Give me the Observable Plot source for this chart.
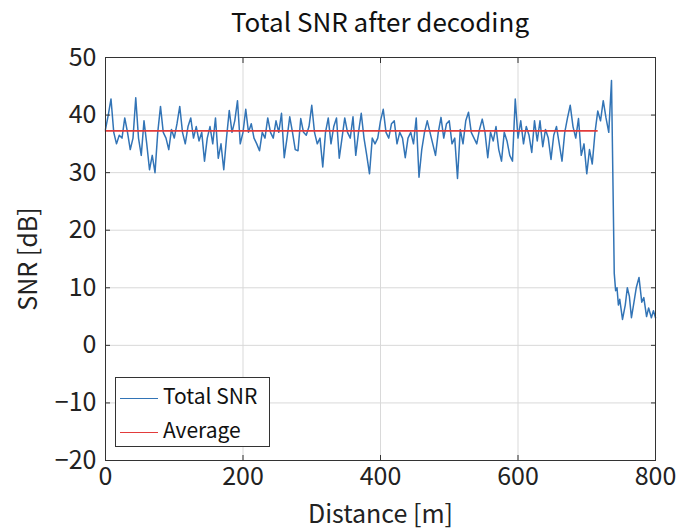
<!DOCTYPE html>
<html><head><meta charset="utf-8">
<script src="https://cdn.jsdelivr.net/npm/d3@7"></script>
<script src="https://cdn.jsdelivr.net/npm/@observablehq/plot@0.6"></script>
<style>
body{margin:0;background:#fff;font-family:"Noto Sans CJK JP","Noto Sans",sans-serif;}
#wrap{position:relative;width:679px;height:532px;overflow:hidden;}
#title{position:absolute;left:105px;width:550px;top:4px;text-align:center;font-size:26px;color:#111;line-height:34px;}
#chart{position:absolute;left:0;top:40px;}
#legend{position:absolute;left:115px;top:377px;width:155px;height:70px;border:1px solid #333;background:#fff;font-size:21px;color:#111;box-sizing:border-box;}
.row{position:absolute;left:4px;height:28px;line-height:28px;white-space:nowrap;}
.sw{display:inline-block;width:38px;height:0;vertical-align:middle;margin-right:5px;border-top:1.5px solid;}
</style></head>
<body><div id="wrap"><div id="title"></div><div id="chart"></div><div id="legend"></div></div>
<script>
const titleText = "Total SNR after decoding";
const xLabel = "Distance [m]";
const yLabel = "SNR [dB]";
const seriesNames = ["Total SNR", "Average"];
const seriesColors = ["#3274b6", "#e23b3b"];
const xTicks = [0, 200, 400, 600, 800];
const yTicks = [-20, -10, 0, 10, 20, 30, 40, 50];

// main signal sampled every 4 m, 0..736 m
const mainStep = 4;
const snrMain = [
 37.5,40,42.8,37,35,36.5,36,39.5,37,34,
 36,43,36,33,39,35,30.5,33,30,37,
 41.5,37,36,34,37.5,36,38.5,41.5,37,35,
 38,39.5,36,38,35.5,37,32,36,38,35,
 39.5,32.5,35,30.5,36,40.8,37,39,42.5,35,
 37,41,37,38.5,36,35,33.8,37,36,39.5,
 37,36,39,37,40.3,32.6,36,39.7,37,34,
 33.8,39.4,37,36.5,38,41.7,37,35,36,31,
 37,39.5,35,38,39.5,32.5,36,39.5,37,36,
 39.7,33,37,40.3,36,33,29.8,36,35,36,
 39,41,37,36,38.5,39,35,37,36,32.6,
 36,37,35,39.5,29.2,34,37,39,37,35,
 33,37,39.6,36,38.5,39,35,36,29,37.5,
 35,39,40.5,37,36,35,37.5,39.3,37,32.6,
 37,35.5,38,34,32,37,35.5,33,32,42.8,
 36,39,35,38,36.5,33.5,39,35.5,39,34.5,
 37.5,36,32.3,36.5,38,35,32,37,39.5,41.7,
 38,36,39.4,33,35,29.8,34,31.5,37,40.7,
 39,42.5,39.5,37,46
];
// tail after the drop
const tailDistance = [740,742,744,746,748,752,756,759,762,765,768,772,776,780,783,787,790,794,797,800];
const tailSnr      = [12.5,9.5,10,7,8,4.5,7,10,8.5,4.8,7,10,11.8,7.5,8.3,5,6.5,4.8,6,4.8];
const avgDistance = [0, 715];
const avgValue = 37.25;

const signal = snrMain.map((v, i) => ({d: i * mainStep, v}))
  .concat(tailDistance.map((d, i) => ({d, v: tailSnr[i]})));
const avg = avgDistance.map(d => ({d, v: avgValue}));

document.getElementById("title").textContent = titleText;

const font = '"Noto Sans CJK JP","Noto Sans",sans-serif';
const chart = Plot.plot({
  width: 679, height: 492,
  marginLeft: 105, marginRight: 24, marginTop: 17, marginBottom: 72,
  style: {fontFamily: font, fontSize: "23px", color: "#222", background: "#fff", overflow: "visible"},
  x: {domain: [0, 800], ticks: xTicks},
  y: {domain: [-20, 50], ticks: yTicks},
  marks: [
    Plot.gridX(xTicks, {stroke: "#d9d9d9", strokeOpacity: 1}),
    Plot.gridY(yTicks, {stroke: "#d9d9d9", strokeOpacity: 1}),
    Plot.line(signal, {x: "d", y: "v", stroke: seriesColors[0], strokeWidth: 1.5}),
    Plot.line(avg, {x: "d", y: "v", stroke: seriesColors[1], strokeWidth: 1.6}),
    Plot.frame({stroke: "#333", strokeWidth: 1}),
    Plot.axisX(xTicks, {anchor: "bottom", tickSize: 0, tickPadding: 7, fontSize: 23, label: xLabel, labelAnchor: "center", labelOffset: 62, labelArrow: "none"}),
    Plot.axisY(yTicks, {anchor: "left", tickSize: 0, tickPadding: 9, fontSize: 23, label: yLabel, labelAnchor: "center", labelOffset: 86, labelArrow: "none"}),
    Plot.axisX(xTicks, {anchor: "bottom", tickSize: -5, text: null, label: null, stroke: "#333"}),
    Plot.axisX(xTicks, {anchor: "top", tickSize: -5, text: null, label: null, stroke: "#333"}),
    Plot.axisY(yTicks, {anchor: "left", tickSize: -5, text: null, label: null, stroke: "#333"}),
    Plot.axisY(yTicks, {anchor: "right", tickSize: -5, text: null, label: null, stroke: "#333"})
  ]
});
document.getElementById("chart").appendChild(chart);
chart.querySelectorAll('[aria-label$="label"] text, g[aria-label="x-axis label"] text, g[aria-label="y-axis label"] text').forEach(t => t.setAttribute("font-size", 25));

const legend = document.getElementById("legend");
seriesNames.forEach((name, i) => {
  const row = document.createElement("div");
  row.className = "row";
  row.style.top = (3 + i * 34) + "px";
  const sw = document.createElement("span");
  sw.className = "sw";
  sw.style.borderTopColor = seriesColors[i];
  row.appendChild(sw);
  row.appendChild(document.createTextNode(name));
  legend.appendChild(row);
});
</script></body></html>
